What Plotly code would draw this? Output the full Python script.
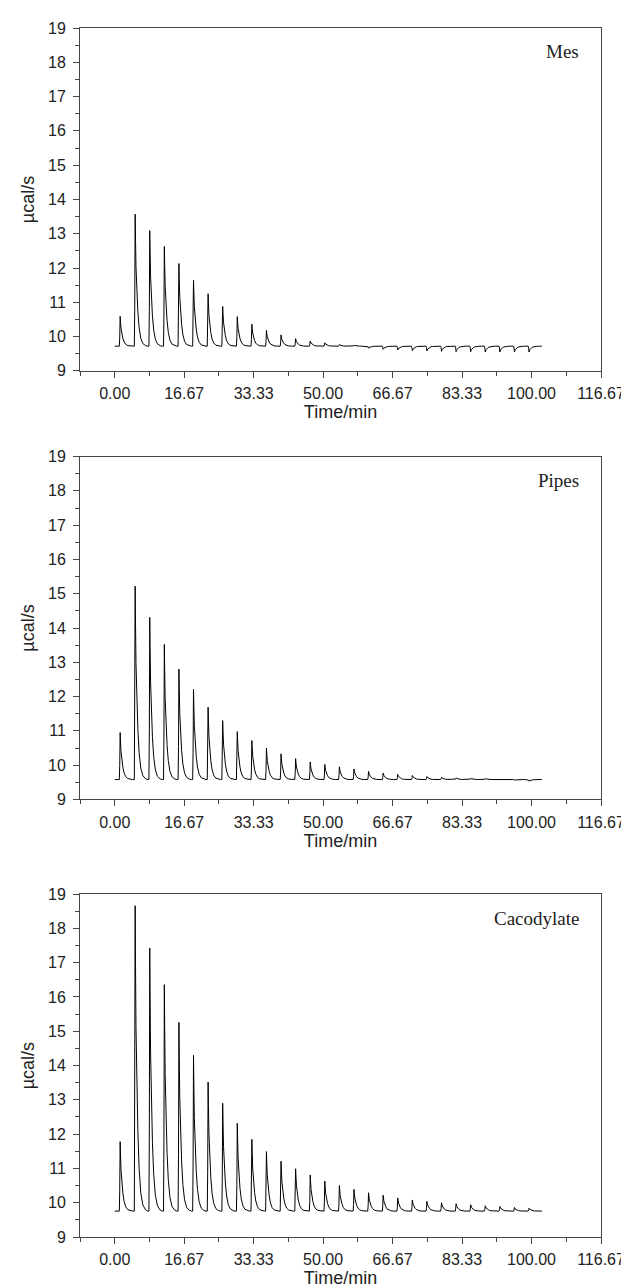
import plotly.graph_objects as go

# ---- data ----
PANELS = ["Mes", "Pipes", "Cacodylate"]

# injection times (min)
INJ_TIMES = [1.3] + [4.9 + 3.5 * k for k in range(28)]

BASELINE_MES = 9.72
BASELINE_PIPES = 9.58
BASELINE_CACO = 9.755

# peak extreme values (µcal/s) per injection
PEAK_MES = [10.59, 13.57, 13.09, 12.63, 12.13, 11.64, 11.25, 10.88, 10.58, 10.36,
            10.18, 10.05, 9.94, 9.87, 9.82, 9.77, 9.75, 9.66, 9.63, 9.61,
            9.59, 9.58, 9.57, 9.56, 9.56, 9.55, 9.55, 9.55, 9.55]
PEAK_PIPES = [10.95, 15.22, 14.31, 13.52, 12.80, 12.21, 11.69, 11.30, 10.98, 10.72,
              10.50, 10.33, 10.19, 10.09, 10.02, 9.95, 9.89, 9.82, 9.77, 9.73,
              9.70, 9.67, 9.65, 9.63, 9.62, 9.61, 9.60, 9.56, 9.53]
PEAK_CACO = [11.78, 18.66, 17.43, 16.36, 15.26, 14.30, 13.52, 12.90, 12.32, 11.85,
             11.49, 11.21, 10.99, 10.81, 10.63, 10.50, 10.39, 10.29, 10.22, 10.14,
             10.08, 10.04, 10.00, 9.97, 9.94, 9.91, 9.89, 9.86, 9.84]

# shape of a single injection peak (time offset, fraction of height)
PROFILE_DT = [-0.2, -0.1, -0.03, 0.0, 0.08, 0.2, 0.4, 0.65, 0.95, 1.35, 1.85, 2.5, 3.0]
PROFILE_FRAC = [0.0, 0.3, 0.85, 1.0, 0.82, 0.6, 0.42, 0.26, 0.14, 0.06, 0.02, 0.004, 0.0]

T_START = 0.0
T_END = 102.5

SERIES = [(PEAK_MES, BASELINE_MES), (PEAK_PIPES, BASELINE_PIPES), (PEAK_CACO, BASELINE_CACO)]


def build_trace(peaks, base):
    xs = [T_START]
    ys = [base]
    for t0, p in zip(INJ_TIMES, peaks):
        amp = p - base
        for dt, f in zip(PROFILE_DT, PROFILE_FRAC):
            xs.append(t0 + dt)
            ys.append(base + amp * f)
    xs.append(T_END)
    ys.append(base)
    return xs, ys


fig = go.Figure()

W, H = 629, 1288
ML, MR, MT, MB = 72, 29, 19, 56
plot_h = H - MT - MB
panel_px = [(19, 363), (449, 793), (888, 1232)]
domains = [[1 - (b - MT) / plot_h, 1 - (t - MT) / plot_h] for t, b in panel_px]

SANS = "Liberation Sans, Arial, Helvetica"
for i, ((peaks, base), name) in enumerate(zip(SERIES, PANELS)):
    xs, ys = build_trace(peaks, base)
    ax = "" if i == 0 else str(i + 1)
    fig.add_trace(go.Scatter(x=xs, y=ys, mode="lines",
                             line=dict(color="black", width=1),
                             xaxis="x" + ax, yaxis="y" + ax, showlegend=False,
                             hoverinfo="skip"))
    axis_common = dict(showline=True, linecolor="#444", linewidth=1, mirror=True,
                       ticks="outside", tickcolor="#444", showgrid=False, zeroline=False,
                       tickfont=dict(family=SANS, size=16, color="#222"))
    fig.layout["xaxis" + ax] = dict(
        axis_common, range=[-8.3333, 116.6667], tickmode="linear", tick0=0, dtick=16.66667,
        tickformat=".2f", ticklen=6, ticklabelstandoff=2,
        minor=dict(tickmode="linear", tick0=-8.33333, dtick=8.33333, ticks="outside",
                   ticklen=4, tickcolor="#444"),
        anchor="y" + ax, domain=[0, 1],
        title=dict(text="Time/min", standoff=3,
                   font=dict(family=SANS, size=18, color="#222")))
    fig.layout["yaxis" + ax] = dict(
        axis_common, range=[9, 19], tickmode="linear", tick0=9, dtick=1, ticklen=6,
        ticklabelstandoff=4,
        minor=dict(tickmode="linear", tick0=9, dtick=0.5, ticks="outside",
                   ticklen=4, tickcolor="#444"),
        anchor="x" + ax, domain=domains[i],
        title=dict(text="µcal/s", standoff=8,
                   font=dict(family=SANS, size=18, color="#222")))
    fig.add_annotation(text=name, xref="x" + ax + " domain", yref="y" + ax + " domain",
                       x=0.962, y=1 - 24 / 344, xanchor="right", yanchor="middle",
                       showarrow=False,
                       font=dict(family="Liberation Serif, Times New Roman", size=19, color="#222"))

fig.update_layout(width=W, height=H, margin=dict(l=ML, r=MR, t=MT, b=MB),
                  plot_bgcolor="white", paper_bgcolor="white")

fig.write_html("out.html")
